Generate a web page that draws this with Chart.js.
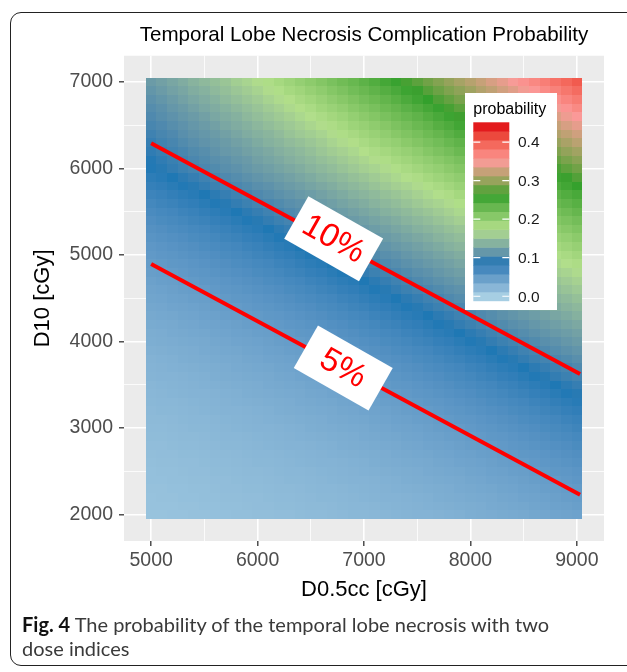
<!DOCTYPE html>
<html>
<head>
<meta charset="utf-8">
<script src="https://cdn.jsdelivr.net/npm/chart.js@4.4.1/dist/chart.umd.min.js"></script>
<style>
  html, body { margin: 0; padding: 0; background: #fff; }
  #wrap { position: relative; width: 627px; height: 672px; overflow: hidden; }
  #frame {
    position: absolute; left: 10px; top: 12px; width: 640px; height: 652px;
    border: 1.3px solid #222; border-radius: 11px;
  }
  canvas { position: absolute; left: 0; top: 0; }
  #caption {
    position: absolute; left: 22px; top: 612px;
    font-family: Lato, "Liberation Sans", sans-serif; font-size: 20px; line-height: 24px;
    color: #3a3a3a;
  }
  #caption b { color: #111; }
</style>
</head>
<body>
<div id="wrap">
  <div id="frame"></div>
  <canvas id="chart" width="627" height="672"></canvas>
  <div id="caption"><b>Fig. 4</b> The probability of the temporal lobe necrosis with two<br>dose indices</div>
</div>
<script>
// grid of the heatmap (cell centres, cGy)
const X_VALUES = [5000, 5100, 5200, 5300, 5400, 5500, 5600, 5700, 5800, 5900, 6000, 6100, 6200, 6300,
                  6400, 6500, 6600, 6700, 6800, 6900, 7000, 7100, 7200, 7300, 7400, 7500, 7600, 7700,
                  7800, 7900, 8000, 8100, 8200, 8300, 8400, 8500, 8600, 8700, 8800, 8900, 9000];
const Y_VALUES = [2000, 2100, 2200, 2300, 2400, 2500, 2600, 2700, 2800, 2900, 3000, 3100, 3200, 3300,
                  3400, 3500, 3600, 3700, 3800, 3900, 4000, 4100, 4200, 4300, 4400, 4500, 4600, 4700,
                  4800, 4900, 5000, 5100, 5200, 5300, 5400, 5500, 5600, 5700, 5800, 5900, 6000, 6100,
                  6200, 6300, 6400, 6500, 6600, 6700, 6800, 6900, 7000];

// probability, one row per Y value (bottom row first), one column per X value
const PROBABILITY = [
  [.011,.011,.012,.012,.013,.013,.014,.014,.015,.015,.016,.016,.017,.017,.018,.019,.019,.020,.021,.022,.022,.023,.024,.025,.026,.027,.027,.028,.029,.030,.032,.033,.034,.035,.036,.037,.039,.040,.042,.043,.044],
  [.012,.012,.012,.013,.013,.014,.014,.015,.015,.016,.017,.017,.018,.018,.019,.020,.020,.021,.022,.023,.023,.024,.025,.026,.027,.028,.029,.030,.031,.032,.033,.034,.036,.037,.038,.039,.041,.042,.044,.045,.047],
  [.012,.013,.013,.014,.014,.015,.015,.016,.016,.017,.017,.018,.019,.019,.020,.021,.022,.022,.023,.024,.025,.026,.027,.027,.028,.029,.030,.032,.033,.034,.035,.036,.037,.039,.040,.042,.043,.044,.046,.048,.049],
  [.013,.013,.014,.014,.015,.015,.016,.017,.017,.018,.018,.019,.020,.020,.021,.022,.023,.023,.024,.025,.026,.027,.028,.029,.030,.031,.032,.033,.034,.036,.037,.038,.039,.041,.042,.044,.045,.047,.048,.050,.052],
  [.014,.014,.015,.015,.016,.016,.017,.017,.018,.019,.019,.020,.021,.022,.022,.023,.024,.025,.026,.027,.027,.028,.029,.030,.032,.033,.034,.035,.036,.037,.039,.040,.042,.043,.044,.046,.048,.049,.051,.053,.055],
  [.014,.015,.015,.016,.017,.017,.018,.018,.019,.020,.020,.021,.022,.023,.023,.024,.025,.026,.027,.028,.029,.030,.031,.032,.033,.034,.036,.037,.038,.039,.041,.042,.044,.045,.047,.048,.050,.052,.054,.055,.057],
  [.015,.016,.016,.017,.017,.018,.019,.019,.020,.021,.022,.022,.023,.024,.025,.026,.027,.027,.028,.029,.030,.032,.033,.034,.035,.036,.037,.039,.040,.042,.043,.044,.046,.048,.049,.051,.053,.055,.056,.058,.060],
  [.016,.017,.017,.018,.018,.019,.020,.020,.021,.022,.023,.023,.024,.025,.026,.027,.028,.029,.030,.031,.032,.033,.034,.036,.037,.038,.039,.041,.042,.044,.045,.047,.048,.050,.052,.054,.055,.057,.059,.061,.063],
  [.017,.017,.018,.019,.019,.020,.021,.022,.022,.023,.024,.025,.026,.027,.027,.028,.029,.030,.032,.033,.034,.035,.036,.037,.039,.040,.042,.043,.044,.046,.048,.049,.051,.053,.055,.056,.058,.060,.062,.064,.067],
  [.018,.018,.019,.020,.020,.021,.022,.023,.023,.024,.025,.026,.027,.028,.029,.030,.031,.032,.033,.034,.036,.037,.038,.039,.041,.042,.044,.045,.047,.048,.050,.052,.054,.055,.057,.059,.061,.063,.066,.068,.070],
  [.019,.019,.020,.021,.022,.022,.023,.024,.025,.026,.027,.027,.028,.029,.030,.032,.033,.034,.035,.036,.037,.039,.040,.042,.043,.044,.046,.048,.049,.051,.053,.055,.056,.058,.060,.062,.064,.067,.069,.071,.074],
  [.020,.020,.021,.022,.023,.023,.024,.025,.026,.027,.028,.029,.030,.031,.032,.033,.034,.036,.037,.038,.039,.041,.042,.044,.045,.047,.048,.050,.052,.054,.055,.057,.059,.061,.063,.066,.068,.070,.072,.075,.077],
  [.021,.022,.022,.023,.024,.025,.026,.027,.027,.028,.029,.030,.032,.033,.034,.035,.036,.037,.039,.040,.042,.043,.044,.046,.048,.049,.051,.053,.055,.056,.058,.060,.062,.064,.067,.069,.071,.074,.076,.079,.081],
  [.022,.023,.023,.024,.025,.026,.027,.028,.029,.030,.031,.032,.033,.034,.036,.037,.038,.039,.041,.042,.044,.045,.047,.048,.050,.052,.054,.055,.057,.059,.061,.063,.066,.068,.070,.072,.075,.077,.080,.083,.085],
  [.023,.024,.025,.026,.027,.027,.028,.029,.030,.032,.033,.034,.035,.036,.037,.039,.040,.042,.043,.044,.046,.048,.049,.051,.053,.055,.056,.058,.060,.062,.064,.067,.069,.071,.074,.076,.079,.081,.084,.087,.090],
  [.024,.025,.026,.027,.028,.029,.030,.031,.032,.033,.034,.036,.037,.038,.039,.041,.042,.044,.045,.047,.048,.050,.052,.054,.055,.057,.059,.061,.063,.066,.068,.070,.072,.075,.077,.080,.083,.085,.088,.091,.094],
  [.026,.027,.027,.028,.029,.030,.032,.033,.034,.035,.036,.037,.039,.040,.042,.043,.044,.046,.048,.049,.051,.053,.055,.056,.058,.060,.062,.064,.067,.069,.071,.074,.076,.079,.081,.084,.087,.090,.093,.096,.099],
  [.027,.028,.029,.030,.031,.032,.033,.034,.036,.037,.038,.039,.041,.042,.044,.045,.047,.048,.050,.052,.054,.055,.057,.059,.061,.063,.066,.068,.070,.072,.075,.077,.080,.083,.085,.088,.091,.094,.097,.100,.104],
  [.028,.029,.030,.032,.033,.034,.035,.036,.037,.039,.040,.042,.043,.044,.046,.048,.049,.051,.053,.055,.056,.058,.060,.062,.064,.067,.069,.071,.074,.076,.079,.081,.084,.087,.090,.093,.096,.099,.102,.105,.109],
  [.030,.031,.032,.033,.034,.036,.037,.038,.039,.041,.042,.044,.045,.047,.048,.050,.052,.054,.055,.057,.059,.061,.063,.066,.068,.070,.072,.075,.077,.080,.083,.085,.088,.091,.094,.097,.100,.104,.107,.111,.114],
  [.032,.033,.034,.035,.036,.037,.039,.040,.042,.043,.044,.046,.048,.049,.051,.053,.055,.056,.058,.060,.062,.064,.067,.069,.071,.074,.076,.079,.081,.084,.087,.090,.093,.096,.099,.102,.105,.109,.112,.116,.120],
  [.033,.034,.036,.037,.038,.039,.041,.042,.044,.045,.047,.048,.050,.052,.054,.055,.057,.059,.061,.063,.066,.068,.070,.072,.075,.077,.080,.083,.085,.088,.091,.094,.097,.100,.104,.107,.111,.114,.118,.121,.125],
  [.035,.036,.037,.039,.040,.042,.043,.044,.046,.048,.049,.051,.053,.055,.056,.058,.060,.062,.064,.067,.069,.071,.074,.076,.079,.081,.084,.087,.090,.093,.096,.099,.102,.105,.109,.112,.116,.120,.123,.127,.131],
  [.037,.038,.039,.041,.042,.044,.045,.047,.048,.050,.052,.054,.055,.057,.059,.061,.063,.066,.068,.070,.072,.075,.077,.080,.083,.085,.088,.091,.094,.097,.100,.104,.107,.111,.114,.118,.121,.125,.129,.133,.138],
  [.039,.040,.042,.043,.044,.046,.048,.049,.051,.053,.055,.056,.058,.060,.062,.064,.067,.069,.071,.074,.076,.079,.081,.084,.087,.090,.093,.096,.099,.102,.105,.109,.112,.116,.120,.123,.127,.131,.135,.140,.144],
  [.041,.042,.044,.045,.047,.048,.050,.052,.054,.055,.057,.059,.061,.063,.066,.068,.070,.072,.075,.077,.080,.083,.085,.088,.091,.094,.097,.100,.104,.107,.111,.114,.118,.121,.125,.129,.133,.138,.142,.146,.151],
  [.043,.044,.046,.048,.049,.051,.053,.055,.056,.058,.060,.062,.064,.067,.069,.071,.074,.076,.079,.081,.084,.087,.090,.093,.096,.099,.102,.105,.109,.112,.116,.120,.123,.127,.131,.135,.140,.144,.148,.153,.158],
  [.045,.047,.048,.050,.052,.054,.055,.057,.059,.061,.063,.066,.068,.070,.072,.075,.077,.080,.083,.085,.088,.091,.094,.097,.100,.104,.107,.111,.114,.118,.121,.125,.129,.133,.138,.142,.146,.151,.155,.160,.165],
  [.048,.049,.051,.053,.055,.056,.058,.060,.062,.064,.067,.069,.071,.074,.076,.079,.081,.084,.087,.090,.093,.096,.099,.102,.105,.109,.112,.116,.120,.123,.127,.131,.135,.140,.144,.148,.153,.158,.163,.167,.172],
  [.050,.052,.054,.055,.057,.059,.061,.063,.066,.068,.070,.072,.075,.077,.080,.083,.085,.088,.091,.094,.097,.100,.104,.107,.111,.114,.118,.121,.125,.129,.133,.138,.142,.146,.151,.155,.160,.165,.170,.175,.180],
  [.053,.055,.056,.058,.060,.062,.064,.067,.069,.071,.074,.076,.079,.081,.084,.087,.090,.093,.096,.099,.102,.105,.109,.112,.116,.120,.123,.127,.131,.135,.140,.144,.148,.153,.158,.163,.167,.172,.178,.183,.188],
  [.055,.057,.059,.061,.063,.066,.068,.070,.072,.075,.077,.080,.083,.085,.088,.091,.094,.097,.100,.104,.107,.111,.114,.118,.121,.125,.129,.133,.138,.142,.146,.151,.155,.160,.165,.170,.175,.180,.186,.191,.197],
  [.058,.060,.062,.064,.067,.069,.071,.074,.076,.079,.081,.084,.087,.090,.093,.096,.099,.102,.105,.109,.112,.116,.120,.123,.127,.131,.135,.140,.144,.148,.153,.158,.163,.167,.172,.178,.183,.188,.194,.199,.205],
  [.061,.063,.066,.068,.070,.072,.075,.077,.080,.083,.085,.088,.091,.094,.097,.100,.104,.107,.111,.114,.118,.121,.125,.129,.133,.138,.142,.146,.151,.155,.160,.165,.170,.175,.180,.186,.191,.197,.202,.208,.214],
  [.064,.067,.069,.071,.074,.076,.079,.081,.084,.087,.090,.093,.096,.099,.102,.105,.109,.112,.116,.120,.123,.127,.131,.135,.140,.144,.148,.153,.158,.163,.167,.172,.178,.183,.188,.194,.199,.205,.211,.217,.223],
  [.068,.070,.072,.075,.077,.080,.083,.085,.088,.091,.094,.097,.100,.104,.107,.111,.114,.118,.121,.125,.129,.133,.138,.142,.146,.151,.155,.160,.165,.170,.175,.180,.186,.191,.197,.202,.208,.214,.220,.226,.233],
  [.071,.074,.076,.079,.081,.084,.087,.090,.093,.096,.099,.102,.105,.109,.112,.116,.120,.123,.127,.131,.135,.140,.144,.148,.153,.158,.163,.167,.172,.178,.183,.188,.194,.199,.205,.211,.217,.223,.230,.236,.242],
  [.075,.077,.080,.083,.085,.088,.091,.094,.097,.100,.104,.107,.111,.114,.118,.121,.125,.129,.133,.138,.142,.146,.151,.155,.160,.165,.170,.175,.180,.186,.191,.197,.202,.208,.214,.220,.226,.233,.239,.246,.252],
  [.079,.081,.084,.087,.090,.093,.096,.099,.102,.105,.109,.112,.116,.120,.123,.127,.131,.135,.140,.144,.148,.153,.158,.163,.167,.172,.178,.183,.188,.194,.199,.205,.211,.217,.223,.230,.236,.242,.249,.256,.263],
  [.083,.085,.088,.091,.094,.097,.100,.104,.107,.111,.114,.118,.121,.125,.129,.133,.138,.142,.146,.151,.155,.160,.165,.170,.175,.180,.186,.191,.197,.202,.208,.214,.220,.226,.233,.239,.246,.252,.259,.266,.273],
  [.087,.090,.093,.096,.099,.102,.105,.109,.112,.116,.120,.123,.127,.131,.135,.140,.144,.148,.153,.158,.163,.167,.172,.178,.183,.188,.194,.199,.205,.211,.217,.223,.230,.236,.242,.249,.256,.263,.270,.277,.284],
  [.089,.092,.095,.098,.102,.105,.109,.112,.116,.119,.124,.128,.132,.137,.141,.145,.150,.154,.159,.164,.169,.174,.179,.185,.190,.196,.201,.207,.213,.219,.226,.233,.239,.246,.252,.259,.266,.273,.280,.288,.295],
  [.092,.095,.098,.101,.105,.108,.113,.117,.120,.124,.128,.132,.137,.141,.145,.150,.156,.161,.165,.170,.176,.181,.186,.192,.197,.203,.210,.216,.222,.229,.235,.241,.248,.255,.262,.269,.277,.284,.291,.299,.306],
  [.094,.098,.101,.105,.109,.113,.116,.120,.124,.128,.133,.138,.142,.147,.151,.156,.161,.167,.172,.177,.183,.188,.194,.199,.206,.212,.218,.224,.231,.237,.244,.251,.258,.265,.272,.279,.287,.295,.302,.310,.318],
  [.097,.101,.104,.109,.113,.116,.120,.124,.129,.134,.138,.142,.147,.153,.158,.162,.167,.173,.179,.184,.190,.195,.201,.208,.214,.220,.227,.233,.240,.247,.254,.261,.268,.276,.283,.290,.298,.305,.314,.321,.329],
  [.101,.104,.108,.112,.116,.120,.124,.130,.134,.138,.143,.148,.153,.158,.163,.169,.174,.180,.185,.192,.197,.203,.209,.216,.222,.229,.235,.243,.249,.256,.263,.271,.278,.286,.293,.301,.309,.317,.324,.333,.341],
  [.104,.108,.112,.116,.120,.124,.130,.134,.138,.144,.149,.154,.159,.164,.170,.175,.181,.187,.192,.199,.205,.211,.218,.225,.231,.237,.245,.252,.259,.267,.274,.281,.289,.297,.304,.312,.320,.328,.336,.345,.353],
  [.107,.111,.116,.120,.125,.130,.134,.139,.144,.149,.154,.160,.165,.171,.177,.182,.189,.194,.200,.207,.213,.219,.227,.233,.240,.247,.254,.261,.269,.276,.284,.292,.299,.308,.316,.323,.332,.340,.348,.357,.366],
  [.111,.115,.120,.125,.130,.134,.139,.145,.150,.155,.160,.166,.172,.177,.184,.189,.195,.202,.208,.215,.222,.228,.235,.242,.250,.257,.264,.272,.279,.287,.295,.302,.311,.318,.327,.335,.343,.352,.361,.370,.378],
  [.115,.120,.125,.129,.135,.139,.145,.150,.156,.161,.166,.173,.178,.185,.190,.197,.203,.210,.216,.224,.230,.237,.244,.251,.259,.266,.274,.282,.290,.297,.305,.314,.321,.330,.338,.347,.355,.365,.373,.382,.391],
  [.120,.124,.129,.134,.140,.145,.150,.155,.162,.167,.173,.179,.185,.191,.198,.204,.211,.218,.225,.231,.239,.246,.254,.261,.269,.276,.284,.292,.300,.308,.316,.324,.333,.341,.350,.359,.368,.376,.386,.394,.404]
];

// iso-probability lines
const LINE_10_X = [5000, 9030];
const LINE_10_Y = [6292, 3625];
const LINE_5_X = [5000, 9030];
const LINE_5_Y = [4897, 2229];

// line labels
const LABEL_TEXT = ['10%', '5%'];
const LABEL_X = [6715, 6805];
const LABEL_Y = [5190, 3695];

// axis ticks and legend breaks
const X_TICKS = [5000, 6000, 7000, 8000, 9000];
const Y_TICKS = [2000, 3000, 4000, 5000, 6000, 7000];
const LEGEND_BREAKS = [0, 0.1, 0.2, 0.3, 0.4];
const LIMITS = [0, 0.44];

const PALETTE = ['#a6cee3', '#1f78b4', '#b2df8a', '#33a02c', '#fb9a99', '#e31a1c'];
const FONT = '"Liberation Sans", Arial, Helvetica, sans-serif';
const HALF_CELL = 50;

// colour ramp interpolated in Lab space, like ggplot's gradientn
function hexToRgb(h) {
  return [1, 3, 5].map(i => parseInt(h.slice(i, i + 2), 16));
}
function rgbToLab(rgb) {
  const lin = rgb.map(c => {
    c /= 255;
    return c <= 0.04045 ? c / 12.92 : Math.pow((c + 0.055) / 1.055, 2.4);
  });
  const X = (0.4124 * lin[0] + 0.3576 * lin[1] + 0.1805 * lin[2]) / 0.95047;
  const Y = 0.2126 * lin[0] + 0.7152 * lin[1] + 0.0722 * lin[2];
  const Z = (0.0193 * lin[0] + 0.1192 * lin[1] + 0.9505 * lin[2]) / 1.08883;
  const f = t => (t > 0.008856 ? Math.cbrt(t) : 7.787 * t + 16 / 116);
  const fx = f(X), fy = f(Y), fz = f(Z);
  return [116 * fy - 16, 500 * (fx - fy), 200 * (fy - fz)];
}
function labToRgb(lab) {
  const fy = (lab[0] + 16) / 116;
  const fx = fy + lab[1] / 500;
  const fz = fy - lab[2] / 200;
  const inv = t => (t > 0.206893 ? t * t * t : (t - 16 / 116) / 7.787);
  const X = inv(fx) * 0.95047, Y = inv(fy), Z = inv(fz) * 1.08883;
  const r = 3.2406 * X - 1.5372 * Y - 0.4986 * Z;
  const g = -0.9689 * X + 1.8758 * Y + 0.0415 * Z;
  const b = 0.0557 * X - 0.2040 * Y + 1.0570 * Z;
  return [r, g, b].map(c => {
    c = c <= 0.0031308 ? 12.92 * c : 1.055 * Math.pow(c, 1 / 2.4) - 0.055;
    return Math.round(Math.min(1, Math.max(0, c)) * 255);
  });
}
const PALETTE_LAB = PALETTE.map(h => rgbToLab(hexToRgb(h)));

function fillColor(v) {
  const t = Math.min(1, Math.max(0, (v - LIMITS[0]) / (LIMITS[1] - LIMITS[0])));
  const pos = t * (PALETTE_LAB.length - 1);
  const k = Math.min(PALETTE_LAB.length - 2, Math.floor(pos));
  const f = pos - k;
  const a = PALETTE_LAB[k], b = PALETTE_LAB[k + 1];
  const rgb = labToRgb([0, 1, 2].map(i => a[i] + (b[i] - a[i]) * f));
  return `rgb(${rgb[0]},${rgb[1]},${rgb[2]})`;
}

function cellEdges(values, i) {
  const lo = i === 0 ? values[0] - HALF_CELL : (values[i - 1] + values[i]) / 2;
  const hi = i === values.length - 1 ? values[i] + HALF_CELL : (values[i] + values[i + 1]) / 2;
  return [lo, hi];
}

// majors plus the minor half-steps between them
function withMinors(majors) {
  const out = [];
  majors.forEach((v, i) => {
    out.push(v);
    if (i < majors.length - 1) out.push((v + majors[i + 1]) / 2);
  });
  return out;
}

const heatmapPlugin = {
  id: "heatmap",
  beforeDraw(chart) {
    const { ctx, chartArea: a } = chart;
    ctx.save();
    ctx.fillStyle = "#ebebeb";
    ctx.fillRect(a.left, a.top, a.right - a.left, a.bottom - a.top);
    ctx.restore();
  },
  beforeDatasetsDraw(chart) {
    const { ctx, scales: { x, y } } = chart;
    ctx.save();
    Y_VALUES.forEach((yv, j) => {
      const [y0, y1] = cellEdges(Y_VALUES, j);
      const top = Math.round(y.getPixelForValue(y1));
      const bottom = Math.round(y.getPixelForValue(y0));
      X_VALUES.forEach((xv, i) => {
        const v = PROBABILITY[j][i];
        if (v === undefined) return;
        const [x0, x1] = cellEdges(X_VALUES, i);
        const left = Math.round(x.getPixelForValue(x0));
        const right = Math.round(x.getPixelForValue(x1));
        ctx.fillStyle = fillColor(v);
        ctx.fillRect(left, top, right - left, bottom - top);
      });
    });
    ctx.restore();
  },
  afterDatasetsDraw(chart) {
    const { ctx, scales: { x, y } } = chart;

    // rotated labels on the lines
    LABEL_TEXT.forEach((text, i) => {
      const px = x.getPixelForValue(LABEL_X[i]);
      const py = y.getPixelForValue(LABEL_Y[i]);
      ctx.save();
      ctx.translate(px, py);
      ctx.rotate((29.6 * Math.PI) / 180);
      ctx.fillStyle = "#ffffff";
      ctx.fillRect(-43, -24.5, 86, 49);
      ctx.fillStyle = "#ff0000";
      ctx.font = `33px ${FONT}`;
      ctx.textAlign = "center";
      ctx.textBaseline = "middle";
      ctx.fillText(text, 0, 1);
      ctx.restore();
    });

    // colour bar legend
    const box = { left: 465, top: 93, width: 92, height: 217 };
    const bar = { left: 473.3, top: 122.3, width: 36, height: 178.4 };
    const nbin = 20;
    ctx.save();
    ctx.fillStyle = "#ffffff";
    ctx.fillRect(box.left, box.top, box.width, box.height);
    ctx.fillStyle = "#000000";
    ctx.font = `16px ${FONT}`;
    ctx.textBaseline = "alphabetic";
    ctx.fillText("probability", bar.left, 114);
    const binH = bar.height / nbin;
    for (let k = 0; k < nbin; k++) {
      const v = LIMITS[0] + ((LIMITS[1] - LIMITS[0]) * k) / (nbin - 1);
      const yTop = bar.top + bar.height - (k + 1) * binH;
      ctx.fillStyle = fillColor(v);
      ctx.fillRect(bar.left, yTop, bar.width, binH + 0.5);
    }
    ctx.font = `15.5px ${FONT}`;
    ctx.textBaseline = "middle";
    LEGEND_BREAKS.forEach(b => {
      const frac = (0.5 + ((nbin - 1) * (b - LIMITS[0])) / (LIMITS[1] - LIMITS[0])) / nbin;
      const ty = bar.top + bar.height - frac * bar.height;
      ctx.strokeStyle = "#ffffff";
      ctx.lineWidth = 1.2;
      ctx.beginPath();
      ctx.moveTo(bar.left, ty);
      ctx.lineTo(bar.left + 7, ty);
      ctx.moveTo(bar.left + bar.width - 7, ty);
      ctx.lineTo(bar.left + bar.width, ty);
      ctx.stroke();
      ctx.fillStyle = "#1a1a1a";
      ctx.fillText(b.toFixed(1), 518, ty + 1);
    });
    ctx.restore();
  },
};

function axis(majors, min, max, title, titlePadding, size, tickPadding) {
  return {
    type: "linear",
    min: min,
    max: max,
    afterBuildTicks: scale => {
      scale.ticks = withMinors(majors).map(v => ({ value: v }));
    },
    afterFit: scale => {
      if (scale.isHorizontal()) scale.height = size;
      else scale.width = size;
    },
    border: { display: false },
    grid: {
      color: "#ffffff",
      lineWidth: c => (majors.includes(c.tick.value) ? 1.6 : 0.8),
      tickColor: c => (majors.includes(c.tick.value) ? "#333333" : "rgba(0,0,0,0)"),
      tickLength: 5,
      tickWidth: 1.3,
    },
    ticks: {
      autoSkip: false,
      maxRotation: 0,
      padding: tickPadding,
      color: "#4d4d4d",
      font: { family: FONT, size: 19.5 },
      callback: v => (majors.includes(v) ? String(v) : ""),
    },
    title: {
      display: true,
      text: title,
      color: "#000000",
      font: { family: FONT, size: 22 },
      padding: titlePadding,
    },
  };
}

new Chart(document.getElementById("chart"), {
  type: "scatter",
  data: {
    datasets: [
      {
        label: "10%",
        data: LINE_10_X.map((v, i) => ({ x: v, y: LINE_10_Y[i] })),
        showLine: true,
        borderColor: "#ff0000",
        borderWidth: 4,
        pointRadius: 0,
      },
      {
        label: "5%",
        data: LINE_5_X.map((v, i) => ({ x: v, y: LINE_5_Y[i] })),
        showLine: true,
        borderColor: "#ff0000",
        borderWidth: 4,
        pointRadius: 0,
      },
    ],
  },
  options: {
    responsive: false,
    animation: false,
    devicePixelRatio: 1,
    layout: { padding: { left: 0, right: 23, top: 0, bottom: 0 } },
    plugins: {
      legend: { display: false },
      tooltip: { enabled: false },
      title: {
        display: true,
        text: "Temporal Lobe Necrosis Complication Probability",
        fullSize: false,
        color: "#000000",
        font: { family: FONT, size: 20.6, weight: "normal" },
        padding: { top: 23, bottom: 8 },
      },
    },
    scales: {
      x: axis(X_TICKS, 4745, 9255, "D0.5cc [cGy]", { top: 0, bottom: 69 }, 131, 3),
      y: axis(Y_TICKS, 1695, 7305, "D10 [cGy]", { top: 30, bottom: 0 }, 124, 6),
    },
  },
  plugins: [heatmapPlugin],
});
</script>
</body>
</html>
